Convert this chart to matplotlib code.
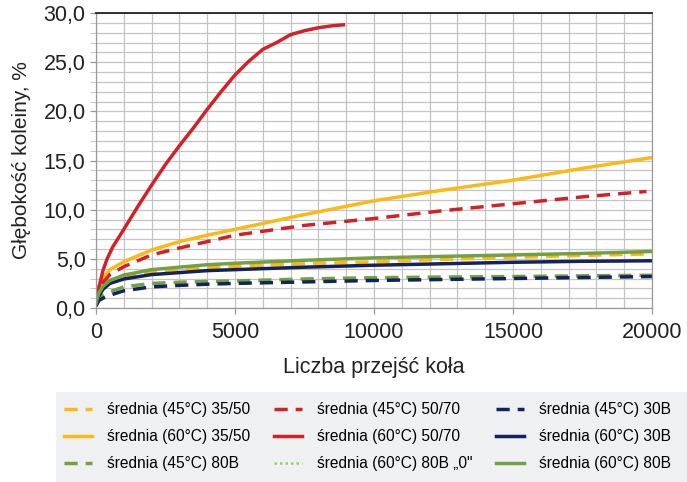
import numpy as np
import matplotlib
matplotlib.use("Agg")
import matplotlib.pyplot as plt
from matplotlib.patches import Rectangle
from matplotlib.ticker import FuncFormatter, MultipleLocator

plt.rcParams['font.family'] = ['Liberation Sans', 'DejaVu Sans']

# wspólna oś x dla krzywych
x_common = [0, 100, 250, 500, 1000, 2000, 3000, 4000, 5000, 7500, 10000, 12500, 15000, 17500, 20000]

y_45_3550 = [0.4, 1.6, 2.3, 2.8, 3.1, 3.7, 3.95, 4.1, 4.25, 4.5, 4.7, 4.95, 5.15, 5.35, 5.5]
y_60_3550 = [0.5, 2.2, 3.0, 3.9, 4.7, 5.9, 6.75, 7.4, 8.0, 9.5, 10.9, 12.0, 13.0, 14.2, 15.3]
y_45_80b = [0.3, 0.9, 1.3, 1.65, 2.15, 2.5, 2.62, 2.7, 2.75, 2.95, 3.08, 3.15, 3.2, 3.27, 3.33]
y_45_30b = [0.2, 0.75, 1.0, 1.3, 1.75, 2.15, 2.3, 2.42, 2.5, 2.65, 2.8, 2.9, 3.0, 3.1, 3.2]
y_60_30b = [0.4, 1.2, 1.9, 2.5, 2.95, 3.4, 3.6, 3.8, 3.9, 4.15, 4.35, 4.5, 4.65, 4.75, 4.8]
y_60_80b = [0.5, 1.5, 2.2, 2.8, 3.35, 3.9, 4.15, 4.4, 4.55, 4.85, 5.1, 5.25, 5.4, 5.55, 5.75]

x_45_5070 = [0, 100, 250, 500, 1000, 2000, 3000, 4000, 5000, 7500, 10000, 12500, 15000, 17500, 19800]
y_45_5070 = [0.4, 1.8, 2.6, 3.4, 4.2, 5.4, 6.1, 6.75, 7.4, 8.4, 9.1, 9.9, 10.6, 11.3, 11.85]

x_60_5070 = [0, 100, 250, 400, 600, 800, 1000, 1500, 2000, 2500, 3000, 3500, 4000, 4500, 5000,
             5500, 6000, 6500, 7000, 7500, 8000, 8500, 8900]
y_60_5070 = [0.3, 2.0, 3.8, 5.0, 6.2, 7.1, 8.0, 10.3, 12.5, 14.6, 16.5, 18.3, 20.2, 22.0, 23.7,
             25.1, 26.3, 27.0, 27.8, 28.2, 28.5, 28.7, 28.8]

# brak danych na wykresie - tylko w legendzie
x_60_80b0 = []
y_60_80b0 = []

c_yellow = '#f9b916'
c_red = '#d22228'
c_navy = '#14235e'
c_green = '#72a043'

fig = plt.figure(figsize=(6.87, 4.82), dpi=100)
ax = fig.add_axes([96 / 687, 1 - 308 / 482, (652 - 96) / 687, (308 - 13) / 482])

lw = 2.5
dash = (3.8, 2.3)

h1, = ax.plot(x_common, y_45_3550, color=c_yellow, lw=lw, dashes=dash, label='średnia (45°C) 35/50')
h2, = ax.plot(x_common, y_60_3550, color=c_yellow, lw=lw, label='średnia (60°C) 35/50')
h3, = ax.plot(x_common, y_45_80b, color=c_green, lw=lw, dashes=dash, label='średnia (45°C) 80B')
h4, = ax.plot(x_45_5070, y_45_5070, color=c_red, lw=lw, dashes=dash, label='średnia (45°C) 50/70')
h5, = ax.plot(x_60_5070, y_60_5070, color=c_red, lw=lw, label='średnia (60°C) 50/70')
h6, = ax.plot(x_60_80b0, y_60_80b0, color='#9ccc6a', lw=1.8, linestyle=(0, (1, 1.2)), label='średnia (60°C) 80B „0"')
h7, = ax.plot(x_common, y_45_30b, color=c_navy, lw=lw, dashes=dash, label='średnia (45°C) 30B')
h8, = ax.plot(x_common, y_60_30b, color=c_navy, lw=lw, label='średnia (60°C) 30B')
h9, = ax.plot(x_common, y_60_80b, color=c_green, lw=lw, label='średnia (60°C) 80B')

ax.set_xlim(0, 20000)
ax.set_ylim(0, 30)
ax.xaxis.set_major_locator(MultipleLocator(5000))
ax.xaxis.set_minor_locator(MultipleLocator(1000))
ax.yaxis.set_major_locator(MultipleLocator(5))
ax.yaxis.set_minor_locator(MultipleLocator(1))
ax.yaxis.set_major_formatter(FuncFormatter(lambda v, p: f"{v:.1f}".replace('.', ',')))

ax.grid(True, which='both', color='#c4c4c4', lw=0.9)
ax.set_axisbelow(True)
ax.tick_params(axis='both', which='major', labelsize=15.5, colors='#222222', length=4, width=0.9)
ax.tick_params(axis='both', which='major', color='#999999')
ax.tick_params(axis='y', which='minor', length=4, color='#bbbbbb')
ax.tick_params(axis='x', which='minor', length=0)
ax.tick_params(axis='x', pad=6)

for s in ['left', 'bottom', 'right']:
    ax.spines[s].set_color('#999999')
    ax.spines[s].set_linewidth(0.9)
ax.spines['top'].set_color('#222222')
ax.spines['top'].set_linewidth(1.3)

ax.set_ylabel('Głębokość koleiny, %', fontsize=15, color='#222222', labelpad=9)
ax.set_xlabel('Liczba przejść koła', fontsize=15.5, color='#222222', labelpad=10)

# tło legendy
fig.patches.append(Rectangle((56 / 687, 0), (687 - 56) / 687, 1 - 392 / 482,
                             transform=fig.transFigure, facecolor='#eef0f2', edgecolor='none', zorder=0))

fig.legend(handles=[h1, h2, h3, h4, h5, h6, h7, h8, h9], ncol=3, frameon=False,
           loc='upper left', bbox_to_anchor=(64 / 687, 1 - 402 / 482), borderaxespad=0,
           borderpad=0, fontsize=11.2, handlelength=1.8, handletextpad=0.95,
           columnspacing=1.55, labelspacing=0.78)

fig.savefig('out.png', dpi=100)
